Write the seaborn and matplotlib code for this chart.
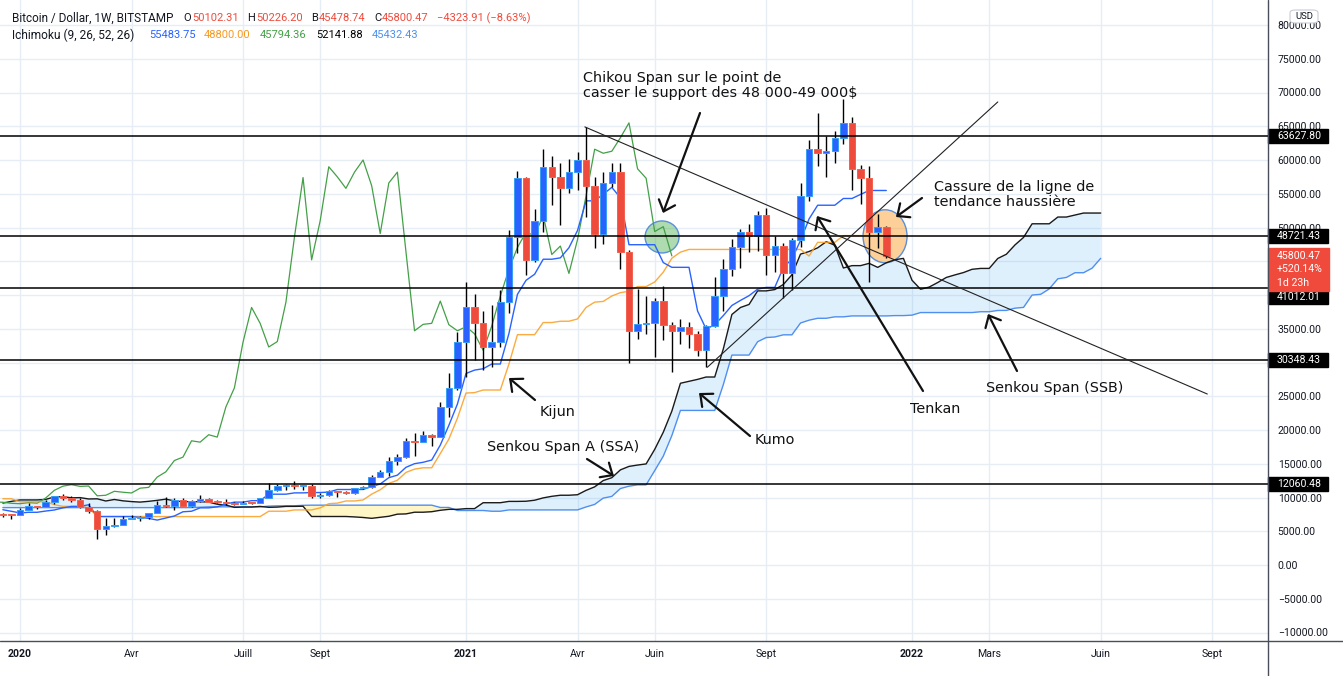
import numpy as np
import pandas as pd
import matplotlib
matplotlib.use("Agg")
import matplotlib.pyplot as plt
import matplotlib.dates as mdates
from matplotlib.patches import Ellipse, Rectangle, FancyBboxPatch
from matplotlib.lines import Line2D
import seaborn as sns

# ---------------------------------------------------------------- data
first_week = "2019-12-23"  # Monday of the first (half visible) weekly candle

opens = [7510, 7390, 7350, 8150, 8700, 8600, 9340, 10150, 9900, 9660,
         8530, 8030, 5360, 5830, 5880, 6780, 6900, 7120, 7700, 8900,
         8730, 9680, 8720, 9450, 9750, 9330, 9300, 9140, 9080, 9240,
         9160, 9930, 11060, 11680, 11900, 11650, 11700, 10250, 10330, 10920,
         10780, 10670, 11380, 11500, 13030, 13800, 15480, 15980, 18400, 18200,
         19300, 18950, 23400, 26250, 33000, 38150, 35800, 32300, 33100, 38900,
         48600, 57400, 45200, 51000, 59000, 57500, 55800, 58200, 60000, 56200,
         49100, 56600, 58200, 46400, 34700, 35650, 35800, 39100, 35600, 34700,
         35300, 34250, 31800, 35400, 39850, 43800, 47050, 49300, 48800, 51800,
         46000, 47250, 43200, 48200, 54700, 61600, 61000, 61300, 63300, 65500,
         58700, 57300, 49400, 50102.31]
highs = [7700, 7550, 8450, 9190, 8750, 9560, 10200, 10500, 10250, 9960,
         9190, 8170, 6950, 7000, 7200, 7470, 7300, 7750, 9460, 10070,
         9950, 9900, 9620, 10430, 9990, 9590, 9800, 9300, 9480, 9350,
         9970, 12080, 12070, 12000, 12470, 11800, 12050, 10600, 11180, 10990,
         10950, 11480, 11720, 13350, 14100, 15970, 16480, 18800, 19500, 19900,
         19420, 24100, 28400, 34500, 41950, 40100, 37700, 38500, 40800, 49600,
         58350, 57500, 52700, 61700, 60600, 59600, 60100, 61240, 64900, 57530,
         58270, 59600, 59600, 46650, 40950, 39900, 39500, 41300, 36000, 36500,
         35950, 34700, 35500, 42600, 45300, 48300, 49800, 50500, 52430, 52950,
         48800, 47700, 48400, 56550, 62950, 67000, 63600, 64300, 69000, 66440,
         59300, 59100, 51980, 50226.20]
lows = [7150, 6850, 7350, 8150, 8300, 8560, 9110, 9700, 9300, 8460,
        7700, 3850, 4450, 5700, 5860, 6760, 6500, 6800, 7640, 8550,
        8200, 8700, 8630, 9280, 9300, 9200, 8900, 8900, 9050, 9000,
        9130, 9900, 10920, 11100, 11280, 11150, 9900, 9900, 10270, 10140,
        10520, 10530, 11200, 11420, 12980, 13200, 14800, 15800, 16200, 18200,
        17600, 18950, 21864.86, 26000, 27800, 30300, 28900, 29300, 32300, 37400,
        46200, 43000, 44950, 49300, 53300, 50400, 55050, 55550, 51600, 47000,
        47500, 56000, 43900, 30000, 33500, 34270, 30800, 33300, 28600, 32700,
        32200, 30900, 29300, 35200, 37700, 42800, 43950, 46400, 46500, 42900,
        43400, 39600, 40800, 47100, 53900, 59100, 57500, 59600, 62300, 55600,
        53500, 41967.5, 46890, 45478.74]
closes = [7390, 7350, 8150, 8700, 8600, 9340, 10150, 9900, 9660, 8530,
          8030, 5360, 5830, 5880, 6780, 6900, 7120, 7700, 8900, 8730,
          9680, 8720, 9450, 9750, 9330, 9300, 9140, 9080, 9240, 9160,
          9930, 11060, 11680, 11900, 11650, 11700, 10250, 10330, 10920, 10780,
          10670, 11380, 11500, 13030, 13800, 15480, 15980, 18400, 18200, 19300,
          18950, 23400, 26250, 33000, 38150, 35800, 32300, 33100, 38900, 48600,
          57400, 45200, 51000, 59000, 57500, 55800, 58200, 60000, 56200, 49100,
          56600, 58200, 46400, 34700, 35650, 35800, 39100, 35600, 34700, 35300,
          34250, 31800, 35400, 39850, 43800, 47050, 49300, 48800, 51800, 46000,
          47250, 43200, 48200, 54700, 61600, 61000, 61300, 63300, 65500, 58700,
          57300, 49400, 50124.38, 45800.47]

# Ichimoku values at the left edge (their windows start before it)
tenkan_lead = [8190, 7955, 7715, 7810, 7810, 7995, 8150, 8465]
kijun_lead = [9815, 9815, 9365, 9365, 9365, 9365, 8940, 8690, 8690, 8690,
              8485, 7195, 7195, 7195, 7195, 7195, 7195, 7175, 7175, 7175,
              7175, 7175, 7175, 7175, 7175]
senkou_a_lead = [9177.5, 9427.5, 9640, 9640, 9640, 9717.5, 10090, 10120, 9950, 9982.5,
                 9782.5, 9807.5, 9482.5, 9707.5, 9507.5, 9395, 9320, 9432.5, 9580, 9755,
                 9505, 9380, 9380, 9380, 9320]
senkou_b_lead = [8500, 8500, 8500, 8500, 8500, 8500, 8500, 8500, 8500, 8500,
                 8500, 8500, 8500, 8500, 8500, 8500, 8500, 8500, 8500, 8500,
                 8500, 8500, 8500, 8565, 8615, 8615, 8615, 8615, 8615, 8615,
                 8615, 8720, 8765, 8775, 8775, 8840, 8865, 8865, 8865, 8865,
                 8865, 8865, 8865, 8865, 8865, 8865, 8865, 8865, 8865, 8865,
                 8865, 8525, 8525, 8075, 8075, 8075, 8075, 7965, 7965, 8160,
                 8160, 8160, 8160, 8160, 8160, 8160, 8160, 8160, 8600, 8975,
                 9910, 10165, 11325, 11675, 11875, 11875]

levels = [63627.80, 48721.43, 41012.01, 30348.43, 12060.48]
last_box_texts = ["45800.47", "+520.14%", "1d 23h"]
chikou_legend = "45794.36"
ytick_values = [-10000, -5000, 0, 5000, 10000, 15000, 20000, 25000, 30000, 35000,
                40000, 45000, 50000, 55000, 60000, 65000, 70000, 75000, 80000]
xtick_dates = ["2020-01-06", "2020-04-06", "2020-07-06", "2020-09-07", "2021-01-04",
               "2021-04-05", "2021-06-07", "2021-09-06", "2022-01-03", "2022-03-07",
               "2022-06-06", "2022-09-05"]
xtick_labels = ["2020", "Avr", "Juill", "Sept", "2021", "Avr", "Juin", "Sept",
                "2022", "Mars", "Juin", "Sept"]
trend_down = [("2021-04-11", 64900), ("2022-09-01", 25330)]
trend_up = [("2021-07-20", 29300), ("2022-03-14", 68600)]
circle_green = ("2021-06-13", 48600)
circle_orange = ("2021-12-12", 48700)

# ---------------------------------------------------------------- ichimoku
DISP = 25
n = len(closes)
O = np.array(opens, float); Hh = np.array(highs, float)
Ll = np.array(lows, float); Cc = np.array(closes, float)
Hs, Ls = pd.Series(Hh), pd.Series(Ll)
tenkan = ((Hs.rolling(9).max() + Ls.rolling(9).min()) / 2).values
tenkan[:len(tenkan_lead)] = tenkan_lead
kijun = ((Hs.rolling(26).max() + Ls.rolling(26).min()) / 2).values
kijun[:len(kijun_lead)] = kijun_lead
ssa_raw = (tenkan + kijun) / 2
ssb_raw = ((Hs.rolling(52).max() + Ls.rolling(52).min()) / 2).values
ssa = np.concatenate([senkou_a_lead, ssa_raw])
ssb = np.concatenate([senkou_b_lead, ssb_raw[51:]])

week0 = pd.Timestamp(first_week)
xc = mdates.date2num(week0 + pd.to_timedelta(np.arange(n) * 7, unit="D"))
xcloud = mdates.date2num(week0 + pd.to_timedelta(np.arange(n + DISP) * 7, unit="D"))
xchik = mdates.date2num(week0 + pd.to_timedelta((np.arange(n) - DISP) * 7, unit="D"))

# ---------------------------------------------------------------- layout helpers
W, H = 1343, 676
AX_R, AX_B = 1268, 641
x_anchor = mdates.date2num(pd.Timestamp("2020-01-06"))
px_per_day = 8.577 / 7


def x_at_px(p):
    return x_anchor + (p - 20) / px_per_day


def y_at_px(p):
    return (565 - p) / 6.75 * 1000


def px_at_y(v):
    return 565 - v / 1000 * 6.75


def afrac(px, py):
    return (px / AX_R, 1 - py / AX_B)


def dnum(s):
    return mdates.date2num(pd.Timestamp(s))


# ---------------------------------------------------------------- figure
sns.set_theme(style="white")
plt.rcParams["font.family"] = ["Roboto", "DejaVu Sans"]
fig = plt.figure(figsize=(W / 100, H / 100), dpi=100)
fig.patch.set_facecolor("white")
ax = fig.add_axes([0, (H - AX_B) / H, AX_R / W, AX_B / H])
ax.set_facecolor("white")
ax.set_xlim(x_at_px(0), x_at_px(AX_R))
ax.set_ylim(y_at_px(AX_B), y_at_px(0))

# price boxes on the right axis (pixel spans), computed first to hide covered tick labels
box_spans = []
for lv in levels:
    cy = 297.5 if abs(lv - 41012.01) < 1 else px_at_y(lv)
    box_spans.append((lv, cy, cy - 7, cy + 7))
last = closes[-1]
red_top = px_at_y(last) - 8
red_span = (red_top, red_top + 43)
spans = [(a, b) for _, _, a, b in box_spans] + [red_span]


def covered(v):
    p = px_at_y(v)
    return any(a - 1 <= p <= b + 1 for a, b in spans)


# grid + ticks
ax.set_axisbelow(True)
ax.grid(True, color="#e6edf5", lw=1.0)
ax.yaxis.tick_right()
ax.set_yticks(ytick_values)
ax.set_yticklabels(["" if covered(v) else f"{v:.2f}".replace("-", "\u2212")
                    for v in ytick_values])
ax.tick_params(axis="y", length=0, pad=7, labelsize=7.6, labelcolor="#131722")
ax.set_xticks([dnum(d) for d in xtick_dates])
ax.set_xticklabels(xtick_labels)
ax.tick_params(axis="x", length=0, pad=6, labelsize=7.6, labelcolor="#131722")
for lab in ax.get_xticklabels():
    if lab.get_text().isdigit():
        lab.set_fontweight("bold")
for s in ax.spines.values():
    s.set_visible(False)

# cloud
ax.fill_between(xcloud, ssa, ssb, where=ssa >= ssb, interpolate=True,
                color="#2196f3", alpha=0.14, lw=0, zorder=1)
ax.fill_between(xcloud, ssa, ssb, where=ssa < ssb, interpolate=True,
                color="#ffe24d", alpha=0.32, lw=0, zorder=1)

# circles (drawn below the candles)
for (dc, pc), wpx, hpx, fc in ((circle_green, 34, 32, (0.30, 0.69, 0.31, 0.45)),
                               (circle_orange, 44, 53, (0.98, 0.64, 0.20, 0.50))):
    ax.add_patch(Ellipse((dnum(dc), pc), wpx / px_per_day, hpx / 6.75 * 1000,
                         facecolor=fc, edgecolor="#5b8fd8", lw=1.0, zorder=1.5))


# ichimoku lines (seaborn)
def sline(x, y, color, lw=1.0, z=2, alpha=1.0):
    sns.lineplot(x=x, y=y, ax=ax, color=color, linewidth=lw, estimator=None,
                 sort=False, legend=False, zorder=z, alpha=alpha)


sline(xcloud, ssb, "#4f8ff0", 1.0)
sline(xcloud, ssa, "#1a1a1a", 1.0)
sline(xchik, Cc, "#43a047", 0.9)
sline(xc, kijun, "#fb9d1e", 1.0, alpha=0.85)
sline(xc, tenkan, "#2962ff", 1.0)

# candles
up = Cc >= O
bottom = np.minimum(O, Cc)
height = np.maximum(np.abs(Cc - O), 140)
ax.vlines(xc, Ll, Hh, color="#000000", lw=1.0, zorder=3)
ax.bar(xc[up], height[up], bottom=bottom[up], width=5.3, color="#2962ff",
       edgecolor="#36a0f4", lw=0.7, zorder=4)
ax.bar(xc[~up], height[~up], bottom=bottom[~up], width=5.3, color="#ef4b3c",
       edgecolor="#f2604f", lw=0.7, zorder=4)

# horizontal levels
for lv in levels:
    ax.axhline(lv, color="black", lw=1.1, zorder=5)

# trend lines
for (d0, p0), (d1, p1) in (trend_down, trend_up):
    ax.plot([dnum(d0), dnum(d1)], [p0, p1], color="#222222", lw=0.8, zorder=5)

# annotations
ann_texts = [
    ("Chikou Span sur le point de", 583, 82),
    ("casser le support des 48 000-49 000$", 583, 97),
    ("Cassure de la ligne de", 934, 191),
    ("tendance haussière", 934, 206),
    ("Kijun", 540, 416),
    ("Senkou Span A (SSA)", 487, 451),
    ("Kumo", 755, 444),
    ("Tenkan", 910, 413),
    ("Senkou Span (SSB)", 986, 392),
]
for t, px, py in ann_texts:
    ax.text(*afrac(px, py), t, transform=ax.transAxes, ha="left", va="baseline",
            fontsize=10.4, color="#111111", family=["DejaVu Sans"], zorder=8)

arrows = [((700, 113), (663, 213)), ((922, 198), (896, 217)), ((535, 400), (509, 378)),
          ((587, 459), (614, 476)), ((750, 436), (699, 393)), ((923, 391), (817, 216)),
          ((1017, 371), (988, 314))]
for tail, head in arrows:
    ax.annotate("", xy=afrac(*head), xytext=afrac(*tail), xycoords="axes fraction",
                textcoords="axes fraction",
                arrowprops=dict(arrowstyle="->,head_length=0.7,head_width=0.62",
                                lw=1.6, color="#111111", shrinkA=0, shrinkB=0,
                                mutation_scale=10), zorder=8)

# price boxes
box_w = 60 / AX_R
for lv, cy, a, b in box_spans:
    ax.add_patch(Rectangle((1.0, y_at_px(b)), box_w, 14 / 6.75 * 1000,
                           transform=ax.get_yaxis_transform(), facecolor="black",
                           edgecolor="black", clip_on=False, zorder=20))
    ax.text(1.0 + 9 / AX_R, y_at_px(cy), f"{lv:.2f}", transform=ax.get_yaxis_transform(),
            ha="left", va="center", color="white", fontsize=7.6, clip_on=False, zorder=21)

ax.add_patch(Rectangle((1.0, y_at_px(red_span[1])), 61 / AX_R, 43 / 6.75 * 1000,
                       transform=ax.get_yaxis_transform(), facecolor="#f04a3c",
                       edgecolor="#f04a3c", clip_on=False, zorder=20))
for j, t in enumerate(last_box_texts):
    ax.text(1.0 + 9 / AX_R, y_at_px(red_top + 8 + 13.5 * j), t,
            transform=ax.get_yaxis_transform(), ha="left", va="center",
            color="white", fontsize=7.6, clip_on=False, zorder=21)

# frame lines (pane separators)
fig.add_artist(Line2D([AX_R / W, AX_R / W], [0, 1], color="#4a4e5a", lw=1.0))
fig.add_artist(Line2D([0, 1], [1 - AX_B / H, 1 - AX_B / H], color="#4a4e5a", lw=1.0))

# USD badge
fig.add_artist(FancyBboxPatch((1290 / W, 1 - 23 / H), 28 / W, 13 / H,
                              boxstyle="round,pad=0,rounding_size=0.004",
                              transform=fig.transFigure, facecolor="white",
                              edgecolor="#c9ccd4", lw=0.8))
fig.text(1304 / W, 1 - 16.5 / H, "USD", ha="center", va="center", fontsize=6.8,
         color="#131722")

# legend (top-left)
red = "#ef4b3c"
dark = "#131722"
chg = closes[-1] - closes[-2]
pct = chg / closes[-2] * 100
line1 = [("Bitcoin / Dollar, 1W, BITSTAMP", 12, dark, 8.5),
         ("O", 183, dark, 8.0), (f"{opens[-1]:.2f}", 192, red, 8.0),
         ("H", 247, dark, 8.0), (f"{highs[-1]:.2f}", 256, red, 8.0),
         ("B", 311, dark, 8.0), (f"{lows[-1]:.2f}", 319, red, 8.0),
         ("C", 374, dark, 8.0), (f"{closes[-1]:.2f}", 382, red, 8.0),
         (f"{chg:.2f} ({pct:.2f}%)".replace("-", "\u2212"), 437, red, 8.0)]
line2 = [("Ichimoku (9, 26, 52, 26)", 12, dark, 8.6),
         (f"{tenkan[-1]:.2f}", 149, "#2962ff", 8.0),
         (f"{kijun[-1]:.2f}", 204, "#f59a23", 8.0),
         (chikou_legend, 260, "#43a047", 8.0),
         (f"{ssa_raw[-1]:.2f}", 316, "#000000", 8.0),
         (f"{ssb_raw[-1]:.2f}", 372, "#4f8ff0", 8.0)]
for items, yy in ((line1, 18), (line2, 35)):
    for t, px, col, fs in items:
        fig.text(px / W, 1 - yy / H, t, ha="left", va="center", fontsize=fs, color=col)

fig.savefig("out.png", dpi=100)
